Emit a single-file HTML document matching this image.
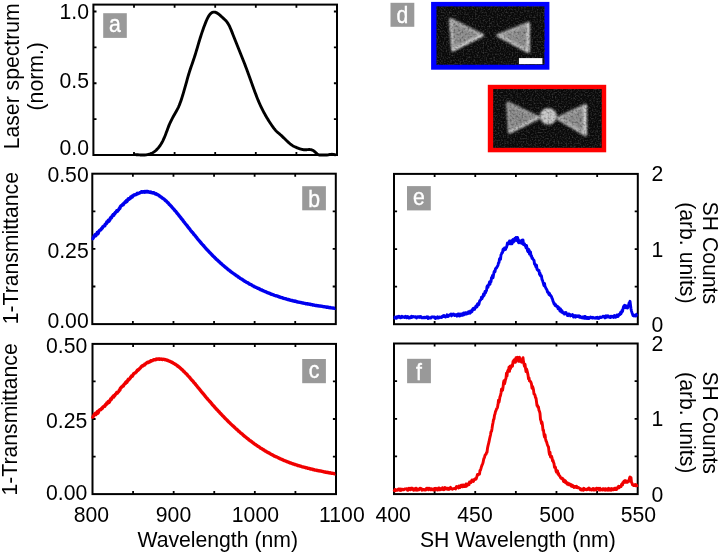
<!DOCTYPE html>
<html><head><meta charset="utf-8"><style>
html,body{margin:0;padding:0;background:#fff;width:720px;height:555px;overflow:hidden}
svg{display:block;font-family:"Liberation Sans",sans-serif;font-size:21.2px;will-change:transform}
</style></head><body>
<svg width="720" height="555" viewBox="0 0 720 555">
<defs>
<filter id="soft" x="-20%" y="-20%" width="140%" height="140%"><feGaussianBlur stdDeviation="1.1"/></filter>
<filter id="sem1" x="0" y="0" width="1" height="1" color-interpolation-filters="sRGB">
<feTurbulence type="fractalNoise" baseFrequency="0.65" numOctaves="1" seed="3" result="n"/>
<feColorMatrix in="n" type="matrix" values="0 0 0 0 0  0 0 0 0 0  0 0 0 0 0  3.0 0 0 0 -1.35" result="na"/>
<feFlood flood-color="#303030"/><feComposite in2="na" operator="in" result="speck"/>
<feBlend in="speck" in2="SourceGraphic" mode="screen" result="a"/>
<feTurbulence type="fractalNoise" baseFrequency="0.5" numOctaves="1" seed="9" result="m"/>
<feColorMatrix in="m" type="matrix" values="0 0 0 0 0  0 0 0 0 0  0 0 0 0 0  2.2 0 0 0 -0.95" result="ma"/>
<feFlood flood-color="#000" flood-opacity="0.4"/><feComposite in2="ma" operator="in" result="dark"/>
<feBlend in="dark" in2="a" mode="normal" result="b"/>
<feGaussianBlur in="b" stdDeviation="0.55"/>
</filter>
<filter id="sem2" x="0" y="0" width="1" height="1" color-interpolation-filters="sRGB">
<feTurbulence type="fractalNoise" baseFrequency="0.65" numOctaves="1" seed="5" result="n"/>
<feColorMatrix in="n" type="matrix" values="0 0 0 0 0  0 0 0 0 0  0 0 0 0 0  3.0 0 0 0 -1.35" result="na"/>
<feFlood flood-color="#303030"/><feComposite in2="na" operator="in" result="speck"/>
<feBlend in="speck" in2="SourceGraphic" mode="screen" result="a"/>
<feTurbulence type="fractalNoise" baseFrequency="0.5" numOctaves="1" seed="11" result="m"/>
<feColorMatrix in="m" type="matrix" values="0 0 0 0 0  0 0 0 0 0  0 0 0 0 0  2.2 0 0 0 -0.95" result="ma"/>
<feFlood flood-color="#000" flood-opacity="0.4"/><feComposite in2="ma" operator="in" result="dark"/>
<feBlend in="dark" in2="a" mode="normal" result="b"/>
<feGaussianBlur in="b" stdDeviation="0.55"/>
</filter>
</defs>
<rect x="93.40" y="4.60" width="243.60" height="150.40" fill="none" stroke="#000" stroke-width="2"/>
<path d="M134.00,155.00v-3.10 M134.00,4.60v3.10 M174.60,155.00v-3.10 M174.60,4.60v3.10 M215.20,155.00v-3.10 M215.20,4.60v3.10 M255.80,155.00v-3.10 M255.80,4.60v3.10 M296.40,155.00v-3.10 M296.40,4.60v3.10 M93.40,119.12h3.10 M337.00,119.12h-3.10 M93.40,83.25h3.10 M337.00,83.25h-3.10 M93.40,47.38h3.10 M337.00,47.38h-3.10 M93.40,11.50h3.10 M337.00,11.50h-3.10 " stroke="#000" stroke-width="1.8" fill="none"/>

<rect x="92.30" y="173.70" width="243.50" height="150.40" fill="none" stroke="#000" stroke-width="2"/>
<path d="M132.88,324.10v-3.10 M132.88,173.70v3.10 M173.47,324.10v-3.10 M173.47,173.70v3.10 M214.05,324.10v-3.10 M214.05,173.70v3.10 M254.63,324.10v-3.10 M254.63,173.70v3.10 M295.22,324.10v-3.10 M295.22,173.70v3.10 M92.30,286.50h3.10 M335.80,286.50h-3.10 M92.30,248.90h3.10 M335.80,248.90h-3.10 M92.30,211.30h3.10 M335.80,211.30h-3.10 " stroke="#000" stroke-width="1.8" fill="none"/>

<rect x="92.50" y="343.90" width="243.50" height="150.20" fill="none" stroke="#000" stroke-width="2"/>
<path d="M133.08,494.10v-3.10 M133.08,343.90v3.10 M173.67,494.10v-3.10 M173.67,343.90v3.10 M214.25,494.10v-3.10 M214.25,343.90v3.10 M254.83,494.10v-3.10 M254.83,343.90v3.10 M295.42,494.10v-3.10 M295.42,343.90v3.10 M92.50,456.55h3.10 M336.00,456.55h-3.10 M92.50,419.00h3.10 M336.00,419.00h-3.10 M92.50,381.45h3.10 M336.00,381.45h-3.10 " stroke="#000" stroke-width="1.8" fill="none"/>

<rect x="394.00" y="173.90" width="243.80" height="150.30" fill="none" stroke="#000" stroke-width="2"/>
<path d="M434.63,324.20v-3.10 M434.63,173.90v3.10 M475.27,324.20v-3.10 M475.27,173.90v3.10 M515.90,324.20v-3.10 M515.90,173.90v3.10 M556.53,324.20v-3.10 M556.53,173.90v3.10 M597.17,324.20v-3.10 M597.17,173.90v3.10 M394.00,286.62h3.10 M637.80,286.62h-3.10 M394.00,249.05h3.10 M637.80,249.05h-3.10 M394.00,211.47h3.10 M637.80,211.47h-3.10 " stroke="#000" stroke-width="1.8" fill="none"/>

<rect x="394.00" y="343.50" width="243.70" height="150.60" fill="none" stroke="#000" stroke-width="2"/>
<path d="M434.62,494.10v-3.10 M434.62,343.50v3.10 M475.23,494.10v-3.10 M475.23,343.50v3.10 M515.85,494.10v-3.10 M515.85,343.50v3.10 M556.47,494.10v-3.10 M556.47,343.50v3.10 M597.08,494.10v-3.10 M597.08,343.50v3.10 M394.00,456.45h3.10 M637.70,456.45h-3.10 M394.00,418.80h3.10 M637.70,418.80h-3.10 M394.00,381.15h3.10 M637.70,381.15h-3.10 " stroke="#000" stroke-width="1.8" fill="none"/>

<path d="M133.20,154.59 L133.70,154.59 L134.20,154.60 L134.70,154.61 L135.20,154.63 L135.70,154.66 L136.20,154.68 L136.70,154.72 L137.20,154.75 L137.70,154.78 L138.20,154.82 L138.70,154.85 L139.20,154.88 L139.70,154.91 L140.20,154.94 L140.70,154.97 L141.20,154.99 L141.70,155.00 L142.20,155.00 L142.70,155.00 L143.20,155.00 L143.70,155.00 L144.20,155.00 L144.70,154.97 L145.20,154.93 L145.70,154.89 L146.20,154.83 L146.70,154.76 L147.20,154.67 L147.70,154.57 L148.20,154.46 L148.70,154.34 L149.20,154.19 L149.70,154.03 L150.20,153.86 L150.70,153.66 L151.20,153.45 L151.70,153.21 L152.20,152.96 L152.70,152.68 L153.20,152.38 L153.70,152.06 L154.20,151.72 L154.70,151.35 L155.20,150.96 L155.70,150.54 L156.20,150.10 L156.70,149.62 L157.20,149.12 L157.70,148.58 L158.20,148.01 L158.70,147.40 L159.20,146.76 L159.70,146.07 L160.20,145.35 L160.70,144.58 L161.20,143.77 L161.70,142.91 L162.20,142.01 L162.70,141.06 L163.20,140.05 L163.70,138.99 L164.20,137.88 L164.70,136.71 L165.20,135.48 L165.70,134.20 L166.20,132.86 L166.70,131.50 L167.20,130.13 L167.70,128.76 L168.20,127.43 L168.70,126.15 L169.20,124.92 L169.70,123.75 L170.20,122.63 L170.70,121.56 L171.20,120.52 L171.70,119.53 L172.20,118.56 L172.70,117.62 L173.20,116.71 L173.70,115.81 L174.20,114.92 L174.70,114.05 L175.20,113.18 L175.70,112.30 L176.20,111.42 L176.70,110.52 L177.20,109.59 L177.70,108.62 L178.20,107.60 L178.70,106.52 L179.20,105.37 L179.70,104.13 L180.20,102.82 L180.70,101.44 L181.20,99.99 L181.70,98.48 L182.20,96.92 L182.70,95.30 L183.20,93.64 L183.70,91.95 L184.20,90.22 L184.70,88.46 L185.20,86.68 L185.70,84.89 L186.20,83.08 L186.70,81.27 L187.20,79.48 L187.70,77.70 L188.20,75.95 L188.70,74.26 L189.20,72.62 L189.70,71.03 L190.20,69.50 L190.70,68.01 L191.20,66.55 L191.70,65.11 L192.20,63.68 L192.70,62.25 L193.20,60.80 L193.70,59.34 L194.20,57.84 L194.70,56.30 L195.20,54.72 L195.70,53.09 L196.20,51.43 L196.70,49.75 L197.20,48.06 L197.70,46.35 L198.20,44.65 L198.70,42.96 L199.20,41.29 L199.70,39.65 L200.20,38.03 L200.70,36.45 L201.20,34.90 L201.70,33.38 L202.20,31.89 L202.70,30.43 L203.20,29.01 L203.70,27.61 L204.20,26.25 L204.70,24.92 L205.20,23.62 L205.70,22.37 L206.20,21.16 L206.70,20.01 L207.20,18.92 L207.70,17.90 L208.20,16.96 L208.70,16.09 L209.20,15.32 L209.70,14.63 L210.20,14.04 L210.70,13.53 L211.20,13.10 L211.70,12.76 L212.20,12.48 L212.70,12.29 L213.20,12.15 L213.70,12.09 L214.20,12.08 L214.70,12.13 L215.20,12.24 L215.70,12.39 L216.20,12.59 L216.70,12.83 L217.20,13.11 L217.70,13.43 L218.20,13.77 L218.70,14.15 L219.20,14.55 L219.70,14.96 L220.20,15.40 L220.70,15.85 L221.20,16.30 L221.70,16.77 L222.20,17.23 L222.70,17.69 L223.20,18.15 L223.70,18.60 L224.20,19.06 L224.70,19.53 L225.20,20.02 L225.70,20.53 L226.20,21.09 L226.70,21.69 L227.20,22.35 L227.70,23.07 L228.20,23.86 L228.70,24.73 L229.20,25.69 L229.70,26.72 L230.20,27.81 L230.70,28.96 L231.20,30.16 L231.70,31.39 L232.20,32.65 L232.70,33.93 L233.20,35.21 L233.70,36.49 L234.20,37.77 L234.70,39.03 L235.20,40.30 L235.70,41.55 L236.20,42.80 L236.70,44.05 L237.20,45.30 L237.70,46.54 L238.20,47.78 L238.70,49.02 L239.20,50.26 L239.70,51.50 L240.20,52.74 L240.70,53.98 L241.20,55.23 L241.70,56.48 L242.20,57.73 L242.70,58.99 L243.20,60.26 L243.70,61.53 L244.20,62.81 L244.70,64.10 L245.20,65.39 L245.70,66.70 L246.20,68.01 L246.70,69.34 L247.20,70.68 L247.70,72.03 L248.20,73.39 L248.70,74.77 L249.20,76.15 L249.70,77.54 L250.20,78.94 L250.70,80.34 L251.20,81.74 L251.70,83.13 L252.20,84.53 L252.70,85.92 L253.20,87.31 L253.70,88.69 L254.20,90.05 L254.70,91.41 L255.20,92.75 L255.70,94.07 L256.20,95.38 L256.70,96.67 L257.20,97.93 L257.70,99.18 L258.20,100.39 L258.70,101.58 L259.20,102.74 L259.70,103.87 L260.20,104.98 L260.70,106.06 L261.20,107.12 L261.70,108.16 L262.20,109.17 L262.70,110.16 L263.20,111.13 L263.70,112.08 L264.20,113.01 L264.70,113.92 L265.20,114.82 L265.70,115.70 L266.20,116.56 L266.70,117.41 L267.20,118.24 L267.70,119.06 L268.20,119.87 L268.70,120.67 L269.20,121.46 L269.70,122.24 L270.20,123.01 L270.70,123.77 L271.20,124.52 L271.70,125.26 L272.20,125.98 L272.70,126.69 L273.20,127.37 L273.70,128.04 L274.20,128.69 L274.70,129.31 L275.20,129.90 L275.70,130.46 L276.20,130.99 L276.70,131.49 L277.20,131.96 L277.70,132.41 L278.20,132.84 L278.70,133.26 L279.20,133.68 L279.70,134.10 L280.20,134.53 L280.70,134.98 L281.20,135.43 L281.70,135.90 L282.20,136.38 L282.70,136.86 L283.20,137.35 L283.70,137.84 L284.20,138.33 L284.70,138.82 L285.20,139.31 L285.70,139.80 L286.20,140.28 L286.70,140.76 L287.20,141.23 L287.70,141.69 L288.20,142.15 L288.70,142.59 L289.20,143.03 L289.70,143.45 L290.20,143.86 L290.70,144.25 L291.20,144.62 L291.70,144.98 L292.20,145.32 L292.70,145.64 L293.20,145.94 L293.70,146.22 L294.20,146.48 L294.70,146.73 L295.20,146.97 L295.70,147.19 L296.20,147.41 L296.70,147.62 L297.20,147.83 L297.70,148.03 L298.20,148.22 L298.70,148.41 L299.20,148.59 L299.70,148.76 L300.20,148.92 L300.70,149.07 L301.20,149.21 L301.70,149.34 L302.20,149.45 L302.70,149.54 L303.20,149.62 L303.70,149.69 L304.20,149.73 L304.70,149.76 L305.20,149.76 L305.70,149.75 L306.20,149.72 L306.70,149.69 L307.20,149.65 L307.70,149.61 L308.20,149.58 L308.70,149.55 L309.20,149.54 L309.70,149.55 L310.20,149.58 L310.70,149.65 L311.20,149.74 L311.70,149.87 L312.20,150.05 L312.70,150.27 L313.20,150.55 L313.70,150.88 L314.20,151.26 L314.70,151.67 L315.20,152.11 L315.70,152.56 L316.20,153.00 L316.70,153.43 L317.20,153.84 L317.70,154.20 L318.20,154.52 L318.70,154.79 L319.20,155.00 L319.70,155.00 L320.20,155.00 L320.70,155.00 L321.20,155.00 L321.70,155.00 L322.20,155.00 L322.70,155.00 L323.20,155.00 L323.70,155.00 L324.20,155.00 L324.70,155.00 L325.20,155.00 L325.70,155.00 L326.20,155.00 L326.70,155.00 L327.20,155.00 L327.70,154.92 L328.20,154.81 L328.70,154.71 L329.20,154.62 L329.70,154.53 L330.20,154.45 L330.70,154.39 L331.20,154.35 L331.70,154.32 L332.20,154.31 L332.70,154.33 L333.20,154.37 L333.70,154.44 L334.20,154.54 L334.70,154.68 L335.20,154.85 L335.70,155.00" stroke="#000" stroke-width="2.9" fill="none" stroke-linejoin="round"/>
<path d="M92.30,237.93 L92.80,238.69 L93.30,237.78 L93.80,237.05 L94.30,235.68 L94.80,235.21 L95.30,234.53 L95.80,235.68 L96.30,234.65 L96.80,234.36 L97.30,232.49 L97.80,233.86 L98.30,233.06 L98.80,231.32 L99.30,230.73 L99.80,230.20 L100.30,229.90 L100.80,229.77 L101.30,229.04 L101.80,228.22 L102.30,228.27 L102.80,226.82 L103.30,226.54 L103.80,226.11 L104.30,225.70 L104.80,225.72 L105.30,224.08 L105.80,224.07 L106.30,223.63 L106.80,222.07 L107.30,222.48 L107.80,221.12 L108.30,220.35 L108.80,221.30 L109.30,220.73 L109.80,219.86 L110.30,218.42 L110.80,217.48 L111.30,217.87 L111.80,216.88 L112.30,215.76 L112.80,215.79 L113.30,214.45 L113.80,215.29 L114.30,213.66 L114.80,213.72 L115.30,212.59 L115.80,212.34 L116.30,211.81 L116.80,210.68 L117.30,211.32 L117.80,210.46 L118.30,210.15 L118.80,209.52 L119.30,208.52 L119.80,208.46 L120.30,206.69 L120.80,206.31 L121.30,205.57 L121.80,205.45 L122.30,205.03 L122.80,204.35 L123.30,204.63 L123.80,203.47 L124.30,202.88 L124.80,202.75 L125.30,201.73 L125.80,202.15 L126.30,200.72 L126.80,201.48 L127.30,200.75 L127.80,199.56 L128.30,198.89 L128.80,199.51 L129.30,198.96 L129.80,198.59 L130.30,198.25 L130.80,197.01 L131.30,196.99 L131.80,196.34 L132.30,196.90 L132.80,196.27 L133.30,195.61 L133.80,194.98 L134.30,194.97 L134.80,194.71 L135.30,194.89 L135.80,194.52 L136.30,194.55 L136.80,193.85 L137.30,193.24 L137.80,193.67 L138.30,193.52 L138.80,193.12 L139.30,193.16 L139.80,192.71 L140.30,192.58 L140.80,192.35 L141.30,191.82 L141.80,191.79 L142.30,191.62 L142.80,192.12 L143.30,191.74 L143.80,191.85 L144.30,192.17 L144.80,191.52 L145.30,191.64 L145.80,191.94 L146.30,191.46 L146.80,191.34 L147.30,191.55 L147.80,191.47 L148.30,192.16 L148.80,192.11 L149.30,192.04 L149.80,192.31 L150.30,192.34 L150.80,191.96 L151.30,192.62 L151.80,192.48 L152.30,192.82 L152.80,193.03 L153.30,192.77 L153.80,192.80 L154.30,193.07 L154.80,193.41 L155.30,193.89 L155.80,194.14 L156.30,193.80 L156.80,194.38 L157.30,194.58 L157.80,194.73 L158.30,194.95 L158.80,195.38 L159.30,196.05 L159.80,196.00 L160.30,196.44 L160.80,196.88 L161.30,197.05 L161.80,197.74 L162.30,198.10 L162.80,198.12 L163.30,198.64 L163.80,198.96 L164.30,199.37 L164.80,199.69 L165.30,200.40 L165.80,200.80 L166.30,201.07 L166.80,201.64 L167.30,202.39 L167.80,202.61 L168.30,203.07 L168.80,203.71 L169.30,204.41 L169.80,204.67 L170.30,205.35 L170.80,205.92 L171.30,206.30 L171.80,207.01 L172.30,207.46 L172.80,208.10 L173.30,208.68 L173.80,209.23 L174.30,209.68 L174.80,210.49 L175.30,210.93 L175.80,211.49 L176.30,212.05 L176.80,212.83 L177.30,213.46 L177.80,213.88 L178.30,214.65 L178.80,215.19 L179.30,215.94 L179.80,216.42 L180.30,217.21 L180.80,217.75 L181.30,218.55 L181.80,218.94 L182.30,219.64 L182.80,220.21 L183.30,221.09 L183.80,221.71 L184.30,222.16 L184.80,222.92 L185.30,223.61 L185.80,224.16 L186.30,224.79 L186.80,225.34 L187.30,225.93 L187.80,226.80 L188.30,227.44 L188.80,227.99 L189.30,228.53 L189.80,229.16 L190.30,229.90 L190.80,230.58 L191.30,231.21 L191.80,231.80 L192.30,232.38 L192.80,232.83 L193.30,233.48 L193.80,234.31 L194.30,234.84 L194.80,235.28 L195.30,235.92 L195.80,236.70 L196.30,237.11 L196.80,237.76 L197.30,238.48 L197.80,239.12 L198.30,239.71 L198.80,240.18 L199.30,240.92 L199.80,241.37 L200.30,241.98 L200.80,242.69 L201.30,243.24 L201.80,243.88 L202.30,244.40 L202.80,244.95 L203.30,245.38 L203.80,246.03 L204.30,246.56 L204.80,247.11 L205.30,247.89 L205.80,248.27 L206.30,248.97 L206.80,249.43 L207.30,250.02 L207.80,250.47 L208.30,251.03 L208.80,251.54 L209.30,251.98 L209.80,252.66 L210.30,253.04 L210.80,253.48 L211.30,254.18 L211.80,254.55 L212.30,255.29 L212.80,255.79 L213.30,256.28 L213.80,256.61 L214.30,257.00 L214.80,257.76 L215.30,258.10 L215.80,258.74 L216.30,259.22 L216.80,259.66 L217.30,259.96 L217.80,260.46 L218.30,261.06 L218.80,261.36 L219.30,261.78 L219.80,262.35 L220.30,262.91 L220.80,263.29 L221.30,263.70 L221.80,263.99 L222.30,264.59 L222.80,265.14 L223.30,265.31 L223.80,265.86 L224.30,266.39 L224.80,266.77 L225.30,267.18 L225.80,267.59 L226.30,267.90 L226.80,268.29 L227.30,268.85 L227.80,269.26 L228.30,269.68 L228.80,270.09 L229.30,270.36 L229.80,270.75 L230.30,271.23 L230.80,271.57 L231.30,271.97 L231.80,272.37 L232.30,272.78 L232.80,272.99 L233.30,273.37 L233.80,273.65 L234.30,274.16 L234.80,274.36 L235.30,274.85 L235.80,275.23 L236.30,275.50 L236.80,275.95 L237.30,276.12 L237.80,276.47 L238.30,277.05 L238.80,277.25 L239.30,277.52 L239.80,277.97 L240.30,278.37 L240.80,278.54 L241.30,278.98 L241.80,279.15 L242.30,279.46 L242.80,279.92 L243.30,280.24 L243.80,280.58 L244.30,280.91 L244.80,281.30 L245.30,281.46 L245.80,281.71 L246.30,282.15 L246.80,282.29 L247.30,282.63 L247.80,282.82 L248.30,283.09 L248.80,283.66 L249.30,283.90 L249.80,284.14 L250.30,284.34 L250.80,284.54 L251.30,284.81 L251.80,285.11 L252.30,285.47 L252.80,285.79 L253.30,286.04 L253.80,286.19 L254.30,286.65 L254.80,286.84 L255.30,287.04 L255.80,287.32 L256.30,287.51 L256.80,287.71 L257.30,287.99 L257.80,288.35 L258.30,288.37 L258.80,288.64 L259.30,288.86 L259.80,289.09 L260.30,289.57 L260.80,289.76 L261.30,289.92 L261.80,290.03 L262.30,290.37 L262.80,290.59 L263.30,290.72 L263.80,291.02 L264.30,291.23 L264.80,291.51 L265.30,291.73 L265.80,291.76 L266.30,292.07 L266.80,292.35 L267.30,292.52 L267.80,292.83 L268.30,292.97 L268.80,293.02 L269.30,293.19 L269.80,293.56 L270.30,293.57 L270.80,293.93 L271.30,294.22 L271.80,294.30 L272.30,294.43 L272.80,294.69 L273.30,294.82 L273.80,295.03 L274.30,295.32 L274.80,295.34 L275.30,295.68 L275.80,295.84 L276.30,295.80 L276.80,295.93 L277.30,296.11 L277.80,296.25 L278.30,296.44 L278.80,296.78 L279.30,296.76 L279.80,297.00 L280.30,297.32 L280.80,297.23 L281.30,297.62 L281.80,297.61 L282.30,297.72 L282.80,298.04 L283.30,298.17 L283.80,298.40 L284.30,298.50 L284.80,298.67 L285.30,298.66 L285.80,298.77 L286.30,299.08 L286.80,299.24 L287.30,299.43 L287.80,299.40 L288.30,299.52 L288.80,299.78 L289.30,299.78 L289.80,300.09 L290.30,300.20 L290.80,300.20 L291.30,300.42 L291.80,300.55 L292.30,300.48 L292.80,300.84 L293.30,300.85 L293.80,301.07 L294.30,301.04 L294.80,301.33 L295.30,301.30 L295.80,301.30 L296.30,301.68 L296.80,301.56 L297.30,301.74 L297.80,302.04 L298.30,302.15 L298.80,302.15 L299.30,302.28 L299.80,302.33 L300.30,302.39 L300.80,302.51 L301.30,302.72 L301.80,302.85 L302.30,302.96 L302.80,303.07 L303.30,302.96 L303.80,303.18 L304.30,303.15 L304.80,303.40 L305.30,303.46 L305.80,303.70 L306.30,303.63 L306.80,303.66 L307.30,303.76 L307.80,304.04 L308.30,304.09 L308.80,304.03 L309.30,304.12 L309.80,304.39 L310.30,304.30 L310.80,304.61 L311.30,304.67 L311.80,304.57 L312.30,304.66 L312.80,305.01 L313.30,304.92 L313.80,305.00 L314.30,305.22 L314.80,305.35 L315.30,305.44 L315.80,305.46 L316.30,305.43 L316.80,305.42 L317.30,305.71 L317.80,305.73 L318.30,305.77 L318.80,306.00 L319.30,305.84 L319.80,306.03 L320.30,305.97 L320.80,306.18 L321.30,306.14 L321.80,306.23 L322.30,306.31 L322.80,306.55 L323.30,306.66 L323.80,306.68 L324.30,306.87 L324.80,306.77 L325.30,306.82 L325.80,307.07 L326.30,306.96 L326.80,307.25 L327.30,307.04 L327.80,307.40 L328.30,307.20 L328.80,307.53 L329.30,307.50 L329.80,307.71 L330.30,307.51 L330.80,307.72 L331.30,307.92 L331.80,307.86 L332.30,307.97 L332.80,308.06 L333.30,308.06 L333.80,308.19 L334.30,308.25 L334.80,308.42 L335.30,308.23" stroke="#0000ee" stroke-width="3.4" fill="none" stroke-linejoin="round"/>
<path d="M92.30,416.21 L92.80,417.07 L93.30,416.25 L93.80,415.60 L94.30,414.32 L94.80,413.95 L95.30,413.36 L95.80,414.61 L96.30,413.67 L96.80,413.48 L97.30,411.70 L97.80,413.16 L98.30,412.46 L98.80,410.82 L99.30,410.32 L99.80,409.89 L100.30,409.67 L100.80,409.64 L101.30,409.01 L101.80,408.28 L102.30,408.42 L102.80,407.06 L103.30,406.87 L103.80,406.52 L104.30,406.20 L104.80,406.31 L105.30,404.75 L105.80,404.82 L106.30,404.45 L106.80,402.98 L107.30,403.46 L107.80,402.17 L108.30,401.47 L108.80,402.48 L109.30,401.98 L109.80,401.18 L110.30,399.79 L110.80,398.90 L111.30,399.35 L111.80,398.40 L112.30,397.33 L112.80,397.40 L113.30,396.11 L113.80,396.97 L114.30,395.37 L114.80,395.46 L115.30,394.35 L115.80,394.12 L116.30,393.60 L116.80,392.48 L117.30,393.13 L117.80,392.26 L118.30,391.94 L118.80,391.30 L119.30,390.29 L119.80,390.20 L120.30,388.40 L120.80,388.00 L121.30,387.21 L121.80,387.05 L122.30,386.58 L122.80,385.84 L123.30,386.06 L123.80,384.83 L124.30,384.16 L124.80,383.96 L125.30,382.85 L125.80,383.18 L126.30,381.64 L126.80,382.30 L127.30,381.45 L127.80,380.15 L128.30,379.35 L128.80,379.84 L129.30,379.15 L129.80,378.63 L130.30,378.14 L130.80,376.74 L131.30,376.56 L131.80,375.73 L132.30,376.11 L132.80,375.29 L133.30,374.43 L133.80,373.61 L134.30,373.39 L134.80,372.90 L135.30,372.86 L135.80,372.26 L136.30,372.05 L136.80,371.11 L137.30,370.25 L137.80,370.42 L138.30,370.01 L138.80,369.34 L139.30,369.11 L139.80,368.37 L140.30,367.97 L140.80,367.44 L141.30,366.62 L141.80,366.30 L142.30,365.83 L142.80,366.02 L143.30,365.33 L143.80,365.14 L144.30,365.14 L144.80,364.18 L145.30,363.98 L145.80,363.95 L146.30,363.16 L146.80,362.71 L147.30,362.60 L147.80,362.20 L148.30,362.57 L148.80,362.19 L149.30,361.79 L149.80,361.73 L150.30,361.44 L150.80,360.73 L151.30,361.07 L151.80,360.60 L152.30,360.62 L152.80,360.51 L153.30,359.92 L153.80,359.63 L154.30,359.58 L154.80,359.60 L155.30,359.76 L155.80,359.68 L156.30,359.03 L156.80,359.29 L157.30,359.16 L157.80,358.99 L158.30,358.89 L158.80,359.00 L159.30,359.34 L159.80,358.97 L160.30,359.09 L160.80,359.21 L161.30,359.05 L161.80,359.42 L162.30,359.46 L162.80,359.15 L163.30,359.35 L163.80,359.34 L164.30,359.43 L164.80,359.42 L165.30,359.81 L165.80,359.89 L166.30,359.83 L166.80,360.09 L167.30,360.51 L167.80,360.41 L168.30,360.56 L168.80,360.88 L169.30,361.27 L169.80,361.21 L170.30,361.59 L170.80,361.85 L171.30,361.92 L171.80,362.34 L172.30,362.49 L172.80,362.84 L173.30,363.13 L173.80,363.40 L174.30,363.57 L174.80,364.11 L175.30,364.28 L175.80,364.57 L176.30,364.88 L176.80,365.40 L177.30,365.79 L177.80,365.96 L178.30,366.49 L178.80,366.80 L179.30,367.33 L179.80,367.60 L180.30,368.18 L180.80,368.52 L181.30,369.12 L181.80,369.33 L182.30,369.85 L182.80,370.25 L183.30,370.97 L183.80,371.44 L184.30,371.74 L184.80,372.36 L185.30,372.92 L185.80,373.35 L186.30,373.87 L186.80,374.31 L187.30,374.80 L187.80,375.58 L188.30,376.13 L188.80,376.60 L189.30,377.07 L189.80,377.63 L190.30,378.31 L190.80,378.94 L191.30,379.51 L191.80,380.06 L192.30,380.60 L192.80,381.02 L193.30,381.64 L193.80,382.45 L194.30,382.96 L194.80,383.39 L195.30,384.02 L195.80,384.79 L196.30,385.20 L196.80,385.85 L197.30,386.58 L197.80,387.23 L198.30,387.83 L198.80,388.31 L199.30,389.07 L199.80,389.54 L200.30,390.18 L200.80,390.92 L201.30,391.50 L201.80,392.17 L202.30,392.72 L202.80,393.30 L203.30,393.76 L203.80,394.45 L204.30,395.02 L204.80,395.61 L205.30,396.43 L205.80,396.85 L206.30,397.59 L206.80,398.10 L207.30,398.74 L207.80,399.24 L208.30,399.85 L208.80,400.40 L209.30,400.89 L209.80,401.63 L210.30,402.07 L210.80,402.57 L211.30,403.33 L211.80,403.76 L212.30,404.56 L212.80,405.13 L213.30,405.68 L213.80,406.07 L214.30,406.53 L214.80,407.36 L215.30,407.76 L215.80,408.48 L216.30,409.03 L216.80,409.54 L217.30,409.92 L217.80,410.49 L218.30,411.17 L218.80,411.55 L219.30,412.04 L219.80,412.70 L220.30,413.34 L220.80,413.80 L221.30,414.29 L221.80,414.67 L222.30,415.35 L222.80,415.99 L223.30,416.25 L223.80,416.88 L224.30,417.50 L224.80,417.97 L225.30,418.47 L225.80,418.98 L226.30,419.38 L226.80,419.86 L227.30,420.52 L227.80,421.02 L228.30,421.53 L228.80,422.04 L229.30,422.41 L229.80,422.89 L230.30,423.47 L230.80,423.91 L231.30,424.40 L231.80,424.91 L232.30,425.41 L232.80,425.72 L233.30,426.21 L233.80,426.59 L234.30,427.20 L234.80,427.50 L235.30,428.09 L235.80,428.58 L236.30,428.96 L236.80,429.50 L237.30,429.78 L237.80,430.23 L238.30,430.92 L238.80,431.22 L239.30,431.59 L239.80,432.15 L240.30,432.66 L240.80,432.93 L241.30,433.48 L241.80,433.75 L242.30,434.16 L242.80,434.73 L243.30,435.16 L243.80,435.60 L244.30,436.04 L244.80,436.53 L245.30,436.80 L245.80,437.15 L246.30,437.70 L246.80,437.95 L247.30,438.40 L247.80,438.68 L248.30,439.06 L248.80,439.74 L249.30,440.09 L249.80,440.43 L250.30,440.73 L250.80,441.04 L251.30,441.41 L251.80,441.81 L252.30,442.28 L252.80,442.70 L253.30,443.05 L253.80,443.30 L254.30,443.86 L254.80,444.16 L255.30,444.46 L255.80,444.83 L256.30,445.12 L256.80,445.42 L257.30,445.79 L257.80,446.25 L258.30,446.37 L258.80,446.74 L259.30,447.05 L259.80,447.38 L260.30,447.95 L260.80,448.23 L261.30,448.48 L261.80,448.69 L262.30,449.12 L262.80,449.43 L263.30,449.65 L263.80,450.04 L264.30,450.33 L264.80,450.70 L265.30,451.01 L265.80,451.13 L266.30,451.52 L266.80,451.89 L267.30,452.14 L267.80,452.53 L268.30,452.75 L268.80,452.89 L269.30,453.14 L269.80,453.58 L270.30,453.67 L270.80,454.11 L271.30,454.48 L271.80,454.64 L272.30,454.85 L272.80,455.19 L273.30,455.39 L273.80,455.67 L274.30,456.04 L274.80,456.13 L275.30,456.55 L275.80,456.78 L276.30,456.81 L276.80,457.01 L277.30,457.26 L277.80,457.47 L278.30,457.73 L278.80,458.14 L279.30,458.18 L279.80,458.48 L280.30,458.87 L280.80,458.84 L281.30,459.30 L281.80,459.36 L282.30,459.53 L282.80,459.92 L283.30,460.11 L283.80,460.39 L284.30,460.56 L284.80,460.79 L285.30,460.83 L285.80,461.00 L286.30,461.38 L286.80,461.59 L287.30,461.84 L287.80,461.86 L288.30,462.04 L288.80,462.35 L289.30,462.41 L289.80,462.77 L290.30,462.94 L290.80,462.99 L291.30,463.27 L291.80,463.45 L292.30,463.43 L292.80,463.84 L293.30,463.90 L293.80,464.16 L294.30,464.18 L294.80,464.52 L295.30,464.54 L295.80,464.59 L296.30,465.02 L296.80,464.94 L297.30,465.16 L297.80,465.51 L298.30,465.67 L298.80,465.71 L299.30,465.88 L299.80,465.98 L300.30,466.08 L300.80,466.24 L301.30,466.49 L301.80,466.66 L302.30,466.81 L302.80,466.95 L303.30,466.89 L303.80,467.15 L304.30,467.15 L304.80,467.44 L305.30,467.54 L305.80,467.81 L306.30,467.78 L306.80,467.84 L307.30,467.98 L307.80,468.29 L308.30,468.38 L308.80,468.35 L309.30,468.47 L309.80,468.77 L310.30,468.71 L310.80,469.05 L311.30,469.14 L311.80,469.07 L312.30,469.19 L312.80,469.57 L313.30,469.51 L313.80,469.62 L314.30,469.86 L314.80,470.02 L315.30,470.14 L315.80,470.18 L316.30,470.18 L316.80,470.19 L317.30,470.51 L317.80,470.55 L318.30,470.61 L318.80,470.86 L319.30,470.73 L319.80,470.94 L320.30,470.90 L320.80,471.14 L321.30,471.11 L321.80,471.23 L322.30,471.33 L322.80,471.59 L323.30,471.71 L323.80,471.76 L324.30,471.97 L324.80,471.88 L325.30,471.95 L325.80,472.22 L326.30,472.12 L326.80,472.43 L327.30,472.23 L327.80,472.61 L328.30,472.42 L328.80,472.76 L329.30,472.74 L329.80,472.97 L330.30,472.78 L330.80,473.01 L331.30,473.22 L331.80,473.17 L332.30,473.29 L332.80,473.39 L333.30,473.41 L333.80,473.54 L334.30,473.61 L334.80,473.79 L335.30,473.62" stroke="#f00000" stroke-width="3.4" fill="none" stroke-linejoin="round"/>
<path d="M394.00,317.60 L394.50,317.91 L395.00,317.04 L395.50,317.48 L396.00,318.25 L396.50,318.24 L397.00,316.63 L397.50,316.78 L398.00,316.44 L398.50,317.24 L399.00,316.36 L399.50,317.24 L400.00,317.63 L400.50,316.83 L401.00,317.65 L401.50,317.46 L402.00,316.24 L402.50,317.36 L403.00,316.71 L403.50,317.02 L404.00,316.73 L404.50,317.58 L405.00,317.03 L405.50,316.41 L406.00,317.22 L406.50,317.71 L407.00,316.68 L407.50,316.48 L408.00,316.82 L408.50,317.99 L409.00,318.06 L409.50,317.39 L410.00,317.88 L410.50,317.76 L411.00,316.77 L411.50,316.17 L412.00,317.39 L412.50,317.21 L413.00,316.80 L413.50,316.53 L414.00,316.93 L414.50,317.08 L415.00,316.67 L415.50,316.74 L416.00,317.11 L416.50,317.98 L417.00,317.41 L417.50,316.79 L418.00,316.79 L418.50,317.18 L419.00,316.67 L419.50,316.68 L420.00,317.35 L420.50,316.48 L421.00,317.32 L421.50,317.09 L422.00,317.82 L422.50,317.92 L423.00,317.82 L423.50,317.83 L424.00,317.19 L424.50,317.82 L425.00,317.16 L425.50,317.65 L426.00,317.16 L426.50,317.42 L427.00,316.66 L427.50,317.05 L428.00,318.54 L428.50,317.06 L429.00,318.01 L429.50,317.94 L430.00,318.10 L430.50,317.62 L431.00,317.88 L431.50,316.83 L432.00,316.86 L432.50,317.13 L433.00,317.06 L433.50,316.97 L434.00,317.05 L434.50,317.87 L435.00,317.10 L435.50,318.56 L436.00,317.93 L436.50,317.56 L437.00,317.82 L437.50,316.81 L438.00,318.12 L438.50,317.86 L439.00,317.54 L439.50,316.92 L440.00,317.62 L440.50,317.33 L441.00,317.06 L441.50,317.54 L442.00,316.84 L442.50,316.15 L443.00,316.49 L443.50,315.59 L444.00,315.49 L444.50,316.63 L445.00,316.68 L445.50,317.03 L446.00,316.67 L446.50,315.87 L447.00,314.72 L447.50,315.57 L448.00,316.53 L448.50,316.11 L449.00,315.31 L449.50,315.15 L450.00,314.49 L450.50,314.31 L451.00,314.00 L451.50,315.95 L452.00,315.34 L452.50,314.14 L453.00,314.79 L453.50,313.91 L454.00,314.30 L454.50,315.56 L455.00,315.37 L455.50,314.95 L456.00,314.45 L456.50,315.37 L457.00,316.11 L457.50,314.84 L458.00,313.96 L458.50,313.93 L459.00,313.99 L459.50,316.11 L460.00,315.05 L460.50,315.69 L461.00,313.92 L461.50,314.00 L462.00,314.94 L462.50,315.31 L463.00,313.79 L463.50,312.96 L464.00,314.84 L464.50,313.25 L465.00,314.26 L465.50,312.64 L466.00,313.88 L466.50,314.13 L467.00,313.70 L467.50,312.61 L468.00,313.43 L468.50,311.76 L469.00,312.08 L469.50,312.22 L470.00,313.19 L470.50,310.89 L471.00,312.39 L471.50,311.70 L472.00,311.72 L472.50,309.55 L473.00,308.61 L473.50,308.23 L474.00,309.45 L474.50,309.39 L475.00,308.14 L475.50,307.02 L476.00,305.95 L476.50,307.14 L477.00,306.79 L477.50,303.91 L478.00,303.70 L478.50,304.90 L479.00,304.09 L479.50,301.48 L480.00,300.45 L480.50,300.04 L481.00,299.51 L481.50,297.10 L482.00,298.73 L482.50,296.79 L483.00,296.73 L483.50,293.92 L484.00,295.62 L484.50,293.97 L485.00,291.59 L485.50,292.90 L486.00,291.08 L486.50,290.66 L487.00,286.69 L487.50,285.72 L488.00,287.33 L488.50,284.65 L489.00,284.47 L489.50,282.05 L490.00,284.29 L490.50,281.41 L491.00,281.72 L491.50,277.68 L492.00,278.31 L492.50,275.58 L493.00,277.87 L493.50,274.93 L494.00,272.20 L494.50,271.06 L495.00,271.86 L495.50,268.73 L496.00,268.03 L496.50,267.96 L497.00,267.07 L497.50,266.24 L498.00,265.14 L498.50,262.69 L499.00,262.44 L499.50,259.00 L500.00,258.18 L500.50,259.22 L501.00,254.89 L501.50,253.85 L502.00,252.62 L502.50,252.62 L503.00,249.44 L503.50,248.83 L504.00,250.13 L504.50,247.95 L505.00,249.68 L505.50,249.49 L506.00,247.70 L506.50,247.52 L507.00,245.31 L507.50,242.88 L508.00,244.05 L508.50,243.00 L509.00,243.57 L509.50,240.94 L510.00,241.18 L510.50,243.86 L511.00,240.93 L511.50,241.43 L512.00,243.82 L512.50,240.33 L513.00,239.47 L513.50,242.01 L514.00,241.13 L514.50,241.13 L515.00,238.09 L515.50,239.74 L516.00,237.46 L516.50,238.45 L517.00,240.68 L517.50,237.55 L518.00,238.94 L518.50,242.62 L519.00,242.77 L519.50,240.56 L520.00,242.05 L520.50,241.77 L521.00,241.18 L521.50,243.34 L522.00,240.19 L522.50,243.66 L523.00,240.01 L523.50,244.49 L524.00,244.16 L524.50,243.82 L525.00,245.71 L525.50,245.47 L526.00,247.81 L526.50,245.38 L527.00,248.08 L527.50,250.61 L528.00,251.67 L528.50,249.09 L529.00,250.03 L529.50,253.98 L530.00,252.29 L530.50,251.97 L531.00,256.06 L531.50,255.68 L532.00,258.18 L532.50,258.01 L533.00,259.14 L533.50,259.78 L534.00,260.23 L534.50,264.00 L535.00,263.97 L535.50,265.52 L536.00,267.00 L536.50,265.18 L537.00,269.17 L537.50,270.03 L538.00,269.66 L538.50,271.11 L539.00,270.37 L539.50,274.29 L540.00,273.01 L540.50,275.70 L541.00,275.21 L541.50,276.19 L542.00,279.55 L542.50,280.26 L543.00,282.18 L543.50,283.81 L544.00,285.72 L544.50,283.34 L545.00,286.49 L545.50,287.27 L546.00,288.53 L546.50,289.11 L547.00,290.15 L547.50,292.28 L548.00,291.74 L548.50,293.02 L549.00,294.52 L549.50,293.29 L550.00,295.39 L550.50,295.14 L551.00,296.16 L551.50,296.60 L552.00,298.21 L552.50,299.13 L553.00,301.01 L553.50,302.07 L554.00,303.77 L554.50,303.49 L555.00,305.44 L555.50,304.46 L556.00,306.09 L556.50,306.04 L557.00,306.80 L557.50,306.29 L558.00,308.82 L558.50,308.87 L559.00,307.59 L559.50,309.28 L560.00,311.12 L560.50,309.00 L561.00,310.27 L561.50,312.00 L562.00,310.52 L562.50,312.73 L563.00,312.49 L563.50,313.14 L564.00,312.88 L564.50,314.12 L565.00,312.80 L565.50,313.62 L566.00,312.51 L566.50,314.01 L567.00,313.90 L567.50,315.53 L568.00,315.66 L568.50,313.90 L569.00,313.87 L569.50,314.22 L570.00,314.51 L570.50,315.88 L571.00,315.53 L571.50,315.60 L572.00,315.52 L572.50,314.54 L573.00,315.54 L573.50,317.04 L574.00,316.71 L574.50,316.23 L575.00,315.46 L575.50,317.20 L576.00,316.16 L576.50,316.69 L577.00,315.85 L577.50,316.22 L578.00,316.35 L578.50,316.55 L579.00,315.83 L579.50,317.31 L580.00,316.35 L580.50,317.36 L581.00,317.45 L581.50,317.66 L582.00,316.83 L582.50,316.86 L583.00,317.87 L583.50,317.13 L584.00,316.67 L584.50,318.26 L585.00,316.44 L585.50,318.28 L586.00,317.08 L586.50,317.30 L587.00,318.54 L587.50,317.47 L588.00,318.07 L588.50,317.48 L589.00,318.52 L589.50,318.16 L590.00,317.71 L590.50,316.96 L591.00,317.54 L591.50,317.82 L592.00,317.45 L592.50,317.94 L593.00,317.30 L593.50,317.81 L594.00,317.84 L594.50,318.09 L595.00,318.20 L595.50,318.13 L596.00,317.48 L596.50,317.51 L597.00,318.32 L597.50,317.24 L598.00,317.97 L598.50,318.46 L599.00,318.29 L599.50,317.47 L600.00,316.92 L600.50,317.55 L601.00,317.64 L601.50,317.27 L602.00,316.84 L602.50,317.04 L603.00,316.20 L603.50,316.61 L604.00,316.26 L604.50,317.34 L605.00,317.94 L605.50,316.16 L606.00,315.84 L606.50,317.37 L607.00,316.48 L607.50,316.78 L608.00,315.77 L608.50,315.99 L609.00,317.10 L609.50,316.87 L610.00,317.39 L610.50,317.60 L611.00,316.22 L611.50,316.77 L612.00,316.34 L612.50,316.44 L613.00,316.15 L613.50,317.44 L614.00,316.61 L614.50,315.48 L615.00,316.71 L615.50,317.28 L616.00,317.09 L616.50,316.29 L617.00,314.95 L617.50,316.57 L618.00,316.55 L618.50,315.68 L619.00,314.53 L619.50,314.00 L620.00,314.51 L620.50,312.48 L621.00,313.81 L621.50,312.49 L622.00,310.46 L622.50,311.37 L623.00,308.89 L623.50,306.77 L624.00,305.89 L624.50,307.42 L625.00,305.32 L625.50,307.47 L626.00,307.82 L626.50,305.97 L627.00,307.31 L627.50,308.09 L628.00,306.37 L628.50,306.13 L629.00,303.21 L629.50,302.60 L630.00,301.30 L630.50,305.14 L631.00,308.70 L631.50,311.10 L632.00,312.69 L632.50,314.03 L633.00,315.53 L633.50,314.93 L634.00,315.90 L634.50,315.24 L635.00,315.18 L635.50,314.98 L636.00,316.04 L636.50,314.30 L637.00,314.28 L637.50,314.00" stroke="#0000ee" stroke-width="2.9" fill="none" stroke-linejoin="round"/>
<path d="M394.00,489.48 L394.50,490.66 L395.00,489.40 L395.50,490.72 L396.00,489.88 L396.50,490.09 L397.00,490.37 L397.50,489.86 L398.00,489.40 L398.50,489.16 L399.00,488.92 L399.50,490.20 L400.00,489.58 L400.50,488.99 L401.00,490.42 L401.50,489.17 L402.00,489.43 L402.50,489.16 L403.00,489.81 L403.50,489.69 L404.00,489.71 L404.50,488.99 L405.00,489.00 L405.50,488.91 L406.00,489.04 L406.50,488.63 L407.00,488.65 L407.50,490.30 L408.00,490.27 L408.50,488.61 L409.00,488.24 L409.50,488.59 L410.00,489.64 L410.50,489.80 L411.00,488.18 L411.50,489.37 L412.00,488.13 L412.50,489.23 L413.00,489.50 L413.50,490.24 L414.00,488.68 L414.50,489.85 L415.00,489.99 L415.50,490.10 L416.00,488.13 L416.50,489.13 L417.00,490.23 L417.50,488.98 L418.00,489.87 L418.50,489.30 L419.00,489.78 L419.50,489.17 L420.00,488.19 L420.50,488.32 L421.00,488.37 L421.50,488.67 L422.00,490.19 L422.50,489.48 L423.00,489.88 L423.50,489.34 L424.00,489.49 L424.50,489.87 L425.00,490.11 L425.50,490.08 L426.00,489.90 L426.50,488.33 L427.00,488.90 L427.50,488.21 L428.00,489.30 L428.50,489.83 L429.00,488.24 L429.50,488.53 L430.00,488.91 L430.50,488.65 L431.00,489.83 L431.50,488.88 L432.00,489.50 L432.50,489.19 L433.00,489.38 L433.50,490.14 L434.00,490.15 L434.50,488.37 L435.00,489.93 L435.50,488.84 L436.00,488.28 L436.50,488.86 L437.00,489.10 L437.50,490.05 L438.00,488.74 L438.50,487.93 L439.00,489.75 L439.50,488.08 L440.00,488.85 L440.50,489.64 L441.00,488.87 L441.50,488.69 L442.00,489.45 L442.50,487.68 L443.00,488.88 L443.50,488.49 L444.00,489.75 L444.50,489.31 L445.00,487.60 L445.50,487.87 L446.00,488.43 L446.50,488.97 L447.00,488.10 L447.50,488.13 L448.00,489.38 L448.50,489.43 L449.00,488.15 L449.50,489.24 L450.00,487.91 L450.50,487.31 L451.00,488.30 L451.50,488.58 L452.00,489.09 L452.50,489.23 L453.00,488.75 L453.50,488.69 L454.00,488.55 L454.50,488.50 L455.00,488.59 L455.50,488.99 L456.00,487.44 L456.50,486.62 L457.00,486.86 L457.50,486.69 L458.00,486.90 L458.50,487.86 L459.00,485.89 L459.50,486.72 L460.00,487.50 L460.50,486.00 L461.00,485.36 L461.50,485.68 L462.00,485.15 L462.50,486.86 L463.00,485.10 L463.50,485.04 L464.00,486.51 L464.50,486.37 L465.00,485.67 L465.50,486.40 L466.00,484.02 L466.50,486.24 L467.00,484.95 L467.50,483.91 L468.00,484.98 L468.50,484.18 L469.00,484.74 L469.50,481.94 L470.00,482.92 L470.50,482.27 L471.00,482.43 L471.50,480.90 L472.00,479.93 L472.50,481.08 L473.00,480.20 L473.50,481.42 L474.00,479.78 L474.50,479.30 L475.00,479.47 L475.50,478.53 L476.00,479.14 L476.50,477.87 L477.00,476.19 L477.50,474.51 L478.00,475.04 L478.50,474.78 L479.00,474.06 L479.50,474.12 L480.00,470.48 L480.50,469.93 L481.00,468.40 L481.50,466.50 L482.00,465.14 L482.50,464.04 L483.00,462.77 L483.50,460.22 L484.00,458.22 L484.50,457.39 L485.00,455.25 L485.50,454.49 L486.00,454.49 L486.50,452.53 L487.00,452.27 L487.50,448.22 L488.00,445.83 L488.50,443.90 L489.00,441.99 L489.50,439.28 L490.00,437.02 L490.50,434.99 L491.00,431.71 L491.50,431.59 L492.00,428.66 L492.50,425.12 L493.00,422.69 L493.50,419.70 L494.00,418.99 L494.50,415.27 L495.00,414.05 L495.50,411.52 L496.00,410.65 L496.50,409.03 L497.00,408.32 L497.50,407.32 L498.00,404.60 L498.50,400.22 L499.00,402.34 L499.50,399.64 L500.00,396.55 L500.50,395.53 L501.00,392.97 L501.50,389.24 L502.00,390.12 L502.50,390.40 L503.00,387.58 L503.50,382.64 L504.00,380.70 L504.50,383.77 L505.00,382.08 L505.50,379.57 L506.00,378.17 L506.50,373.27 L507.00,376.12 L507.50,371.45 L508.00,370.21 L508.50,370.69 L509.00,367.25 L509.50,371.28 L510.00,366.18 L510.50,368.65 L511.00,366.72 L511.50,366.87 L512.00,364.86 L512.50,366.07 L513.00,361.55 L513.50,361.54 L514.00,360.10 L514.50,362.36 L515.00,359.45 L515.50,362.29 L516.00,357.71 L516.50,358.42 L517.00,359.45 L517.50,357.32 L518.00,357.58 L518.50,361.29 L519.00,358.28 L519.50,357.35 L520.00,361.35 L520.50,359.88 L521.00,360.44 L521.50,362.21 L522.00,361.33 L522.50,358.78 L523.00,357.68 L523.50,361.89 L524.00,364.20 L524.50,366.31 L525.00,364.11 L525.50,368.27 L526.00,371.53 L526.50,368.86 L527.00,370.46 L527.50,372.64 L528.00,374.89 L528.50,378.74 L529.00,377.77 L529.50,380.94 L530.00,381.10 L530.50,381.62 L531.00,382.28 L531.50,384.15 L532.00,388.19 L532.50,386.41 L533.00,387.81 L533.50,389.89 L534.00,394.13 L534.50,394.24 L535.00,395.12 L535.50,397.59 L536.00,398.03 L536.50,401.73 L537.00,405.51 L537.50,405.38 L538.00,407.29 L538.50,407.09 L539.00,410.45 L539.50,411.45 L540.00,413.37 L540.50,419.53 L541.00,420.81 L541.50,423.43 L542.00,422.12 L542.50,425.42 L543.00,430.25 L543.50,430.15 L544.00,434.66 L544.50,437.00 L545.00,434.67 L545.50,438.52 L546.00,440.92 L546.50,441.57 L547.00,443.39 L547.50,445.00 L548.00,446.16 L548.50,447.00 L549.00,451.67 L549.50,454.45 L550.00,452.14 L550.50,456.96 L551.00,457.03 L551.50,456.21 L552.00,457.68 L552.50,460.72 L553.00,460.36 L553.50,462.36 L554.00,463.54 L554.50,467.36 L555.00,466.78 L555.50,467.37 L556.00,470.91 L556.50,472.04 L557.00,472.06 L557.50,470.82 L558.00,474.13 L558.50,473.37 L559.00,475.27 L559.50,475.80 L560.00,476.32 L560.50,477.44 L561.00,478.32 L561.50,477.97 L562.00,478.80 L562.50,478.24 L563.00,479.56 L563.50,481.45 L564.00,479.82 L564.50,481.73 L565.00,482.24 L565.50,480.81 L566.00,482.80 L566.50,482.84 L567.00,484.08 L567.50,482.77 L568.00,484.15 L568.50,484.73 L569.00,483.80 L569.50,483.74 L570.00,484.44 L570.50,485.45 L571.00,484.62 L571.50,486.39 L572.00,485.11 L572.50,486.52 L573.00,485.58 L573.50,486.25 L574.00,487.37 L574.50,486.59 L575.00,487.13 L575.50,486.63 L576.00,487.14 L576.50,486.35 L577.00,487.66 L577.50,487.68 L578.00,487.53 L578.50,487.44 L579.00,488.03 L579.50,488.13 L580.00,488.48 L580.50,489.63 L581.00,489.92 L581.50,490.00 L582.00,488.93 L582.50,489.96 L583.00,489.29 L583.50,490.17 L584.00,488.29 L584.50,489.65 L585.00,489.29 L585.50,489.13 L586.00,489.66 L586.50,489.82 L587.00,489.82 L587.50,488.76 L588.00,488.84 L588.50,489.31 L589.00,488.11 L589.50,489.78 L590.00,489.29 L590.50,488.98 L591.00,489.40 L591.50,490.08 L592.00,489.76 L592.50,489.44 L593.00,488.47 L593.50,490.12 L594.00,488.86 L594.50,489.98 L595.00,489.10 L595.50,489.47 L596.00,489.94 L596.50,488.16 L597.00,488.68 L597.50,488.44 L598.00,488.17 L598.50,488.81 L599.00,490.06 L599.50,488.64 L600.00,488.36 L600.50,490.14 L601.00,489.19 L601.50,489.16 L602.00,489.63 L602.50,489.92 L603.00,488.67 L603.50,488.63 L604.00,489.11 L604.50,490.02 L605.00,490.20 L605.50,488.65 L606.00,489.72 L606.50,489.21 L607.00,490.14 L607.50,488.92 L608.00,488.88 L608.50,488.37 L609.00,490.16 L609.50,488.69 L610.00,488.94 L610.50,488.88 L611.00,490.31 L611.50,488.56 L612.00,489.11 L612.50,489.83 L613.00,488.77 L613.50,489.64 L614.00,489.32 L614.50,488.36 L615.00,489.44 L615.50,488.63 L616.00,488.08 L616.50,489.56 L617.00,489.02 L617.50,487.88 L618.00,487.33 L618.50,486.35 L619.00,487.83 L619.50,486.46 L620.00,486.82 L620.50,486.77 L621.00,486.64 L621.50,484.53 L622.00,483.73 L622.50,484.96 L623.00,482.38 L623.50,482.76 L624.00,481.10 L624.50,480.98 L625.00,480.54 L625.50,482.34 L626.00,482.24 L626.50,481.04 L627.00,482.27 L627.50,482.25 L628.00,481.02 L628.50,481.18 L629.00,481.22 L629.50,478.02 L630.00,477.01 L630.50,477.35 L631.00,477.55 L631.50,482.43 L632.00,483.12 L632.50,484.79 L633.00,484.70 L633.50,485.58 L634.00,485.47 L634.50,485.00 L635.00,484.50 L635.50,485.49 L636.00,484.63 L636.50,485.04 L637.00,487.09" stroke="#f00000" stroke-width="2.9" fill="none" stroke-linejoin="round"/>
<rect x="103.2" y="13.2" width="23.6" height="24.7" fill="#999"/><text transform="translate(115.0,32.3) scale(1,1.1)" fill="#fff" stroke="#fff" stroke-width="0.35" font-size="21.2" text-anchor="middle">a</text>
<rect x="302.2" y="186.2" width="23.7" height="24.1" fill="#999"/><text transform="translate(314.1,206.8) scale(1,1.1)" fill="#fff" stroke="#fff" stroke-width="0.35" font-size="21.2" text-anchor="middle">b</text>
<rect x="302.2" y="359.0" width="23.7" height="24.2" fill="#999"/><text transform="translate(314.1,377.5) scale(1,1.1)" fill="#fff" stroke="#fff" stroke-width="0.35" font-size="21.2" text-anchor="middle">c</text>
<rect x="390.5" y="2.8" width="23.8" height="24.0" fill="#999"/><text transform="translate(402.4,23.2) scale(1,1.1)" fill="#fff" stroke="#fff" stroke-width="0.35" font-size="21.2" text-anchor="middle">d</text>
<rect x="407.0" y="186.1" width="23.8" height="24.3" fill="#999"/><text transform="translate(418.9,204.8) scale(1,1.1)" fill="#fff" stroke="#fff" stroke-width="0.35" font-size="21.2" text-anchor="middle">e</text>
<rect x="407.1" y="358.8" width="23.8" height="24.4" fill="#999"/><text transform="translate(419.0,379.8) scale(1,1.1)" fill="#fff" stroke="#fff" stroke-width="0.35" font-size="21.2" text-anchor="middle">f</text>
<text transform="translate(89.00,19.30) scale(1,1.000)" text-anchor="end" >1.0</text>
<text transform="translate(89.00,88.00) scale(1,1.000)" text-anchor="end" >0.5</text>
<text transform="translate(89.00,155.40) scale(1,1.000)" text-anchor="end" >0.0</text>
<text transform="translate(88.70,182.00) scale(1,1.000)" text-anchor="end" >0.50</text>
<text transform="translate(88.70,258.00) scale(1,1.000)" text-anchor="end" >0.25</text>
<text transform="translate(88.70,328.40) scale(1,1.000)" text-anchor="end" >0.00</text>
<text transform="translate(87.30,353.40) scale(1,1.000)" text-anchor="end" >0.50</text>
<text transform="translate(87.30,427.50) scale(1,1.000)" text-anchor="end" >0.25</text>
<text transform="translate(87.30,499.70) scale(1,1.000)" text-anchor="end" >0.00</text>
<text transform="translate(651.50,181.40) scale(1,1.000)" text-anchor="start" >2</text>
<text transform="translate(651.50,256.55) scale(1,1.000)" text-anchor="start" >1</text>
<text transform="translate(651.50,331.70) scale(1,1.000)" text-anchor="start" >0</text>
<text transform="translate(651.50,351.00) scale(1,1.000)" text-anchor="start" >2</text>
<text transform="translate(651.50,426.30) scale(1,1.000)" text-anchor="start" >1</text>
<text transform="translate(651.50,501.60) scale(1,1.000)" text-anchor="start" >0</text>
<text transform="translate(91.30,521.50) scale(1,1.000)" text-anchor="middle" >800</text>
<text transform="translate(173.50,521.50) scale(1,1.000)" text-anchor="middle" >900</text>
<text transform="translate(255.40,521.50) scale(1,1.000)" text-anchor="middle" >1000</text>
<text transform="translate(341.90,521.50) scale(1,1.000)" text-anchor="middle" >1100</text>
<text transform="translate(393.10,521.50) scale(1,1.000)" text-anchor="middle" >400</text>
<text transform="translate(475.00,521.50) scale(1,1.000)" text-anchor="middle" >450</text>
<text transform="translate(556.80,521.50) scale(1,1.000)" text-anchor="middle" >500</text>
<text transform="translate(638.40,521.50) scale(1,1.000)" text-anchor="middle" >550</text>
<text transform="translate(217.70,547.00) scale(1,1.000)" text-anchor="middle" >Wavelength (nm)</text>
<text transform="translate(517.90,547.00) scale(1,1.000)" text-anchor="middle" >SH Wavelength (nm)</text>
<text transform="translate(18.90,76.30) rotate(-90) scale(1,1.000)" text-anchor="middle">Laser spectrum</text>
<text transform="translate(42.80,76.30) rotate(-90) scale(1,1.000)" text-anchor="middle">(norm.)</text>
<text transform="translate(18.40,248.20) rotate(-90) scale(1,1.000)" text-anchor="middle">1-Transmittance</text>
<text transform="translate(17.40,419.40) rotate(-90) scale(1,1.000)" text-anchor="middle">1-Transmittance</text>
<text transform="translate(703.40,252.80) rotate(90) scale(1,1.000)" text-anchor="middle">SH Counts</text>
<text transform="translate(679.80,252.80) rotate(90) scale(1,1.000)" text-anchor="middle">(arb. units)</text>
<text transform="translate(703.40,422.70) rotate(90) scale(1,1.000)" text-anchor="middle">SH Counts</text>
<text transform="translate(679.80,422.70) rotate(90) scale(1,1.000)" text-anchor="middle">(arb. units)</text>
<rect x="431.1" y="1.9" width="118.3" height="67.8" fill="#0000ff"/><g filter="url(#sem1)"><rect x="436.5" y="6.5" width="107.8" height="58.2" fill="#0a0a0a"/><g filter="url(#soft)"><polygon points="450.6,19.6 452.8,50.0 482.3,35.2" fill="#8e8e8e" stroke="#a8a8a8" stroke-width="3.5" stroke-linejoin="round"/><polygon points="498.2,35.4 528.3,23.6 528.3,51.4" fill="#8e8e8e" stroke="#a8a8a8" stroke-width="3.5" stroke-linejoin="round"/><line x1="452.8" y1="50.0" x2="482.3" y2="35.2" stroke="#dcdcdc" stroke-width="2.2" stroke-linecap="round"/><line x1="450.6" y1="19.6" x2="452.8" y2="50.0" stroke="#c0c0c0" stroke-width="1.8" stroke-linecap="round"/><line x1="528.3" y1="23.6" x2="528.3" y2="51.4" stroke="#dcdcdc" stroke-width="2.2" stroke-linecap="round"/><line x1="498.2" y1="35.4" x2="528.3" y2="51.4" stroke="#c8c8c8" stroke-width="1.8" stroke-linecap="round"/></g></g>
<rect x="518.9" y="58.1" width="23.5" height="6" fill="#fff"/>
<rect x="487.8" y="84.8" width="118.4" height="67.5" fill="#ff0000"/><g filter="url(#sem2)"><rect x="493.2" y="89.1" width="108.5" height="58.7" fill="#0a0a0a"/><g filter="url(#soft)"><polygon points="507.8,103.2 509.6,132.2 538.5,117.6" fill="#8a8a8a" stroke="#9a9a9a" stroke-width="3.5" stroke-linejoin="round"/><polygon points="558.0,118.3 585.3,105.6 585.3,134.4" fill="#8e8e8e" stroke="#a8a8a8" stroke-width="3.5" stroke-linejoin="round"/><line x1="509.6" y1="132.2" x2="538.5" y2="117.6" stroke="#cfcfcf" stroke-width="2.0" stroke-linecap="round"/><line x1="585.3" y1="105.6" x2="585.3" y2="134.4" stroke="#e0e0e0" stroke-width="2.6" stroke-linecap="round"/><line x1="558.0" y1="118.3" x2="585.3" y2="134.4" stroke="#bdbdbd" stroke-width="1.8" stroke-linecap="round"/><circle cx="548.3" cy="116.3" r="8.4" fill="#c8c8c8"/></g></g>
</svg></body></html>
